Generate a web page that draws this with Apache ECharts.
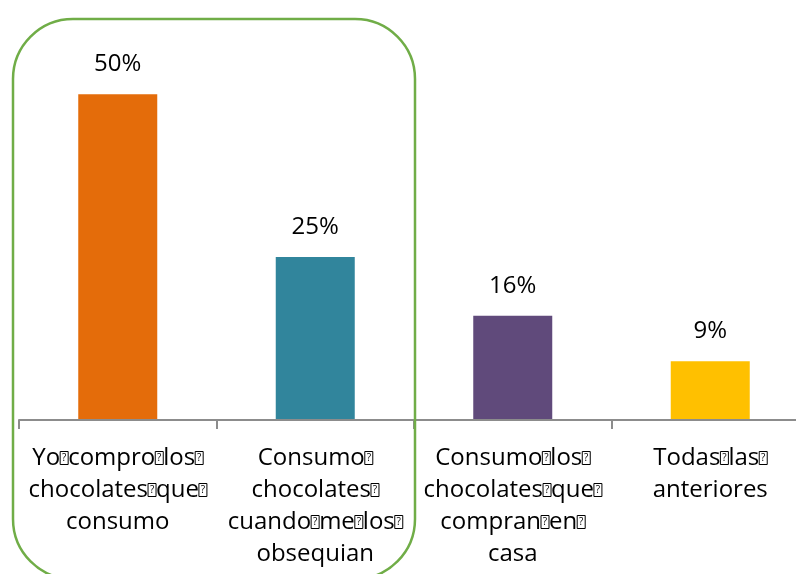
<!DOCTYPE html>
<html>
<head>
<meta charset="utf-8">
<script src="https://cdn.jsdelivr.net/npm/echarts@6/dist/echarts.min.js"></script>
<style>
  html, body { margin: 0; padding: 0; background: #ffffff; overflow: hidden; }
  #wrap { width: 796px; height: 574px; overflow: hidden; }
  /* the plot runs past the right edge, so the canvas is wider than the view */
  #chart { width: 830px; height: 574px; }
</style>
</head>
<body>
<div id="wrap"><div id="chart"></div></div>
<script>
// Category labels; \uFFFD marks the unprintable separators of the source labels
const categories = [
  'Yo\uFFFDcompro\uFFFDlos\uFFFD\nchocolates\uFFFDque\uFFFD\nconsumo',
  'Consumo\uFFFD\nchocolates\uFFFD\ncuando\uFFFDme\uFFFDlos\uFFFD\nobsequian',
  'Consumo\uFFFDlos\uFFFD\nchocolates\uFFFDque\uFFFD\ncompran\uFFFDen\uFFFD\ncasa',
  'Todas\uFFFDlas\uFFFD\nanteriores'
];
const values = [50, 25, 16, 9];
const barColors = ['#E46C0A', '#31859C', '#604A7B', '#FFC000'];

const chart = echarts.init(document.getElementById('chart'), null, { renderer: 'canvas' });

const font = "'Open Sans', 'DejaVu Sans', sans-serif";

chart.setOption({
  animation: false,
  backgroundColor: '#ffffff',
  grid: { left: 19, top: 29, width: 790, height: 391, containLabel: false },
  xAxis: {
    type: 'category',
    data: categories,
    z: 5,
    axisLine: { lineStyle: { color: '#8C8C8C', width: 2 } },
    axisTick: { show: true, length: 9, lineStyle: { color: '#8C8C8C', width: 2 } },
    axisLabel: {
      interval: 0,
      margin: 22,
      color: '#000000',
      fontFamily: font,
      fontSize: 24,
      lineHeight: 32,
      formatter: function (v) { return v.split('\uFFFD').join('{q|?}'); },
      rich: {
        q: {
          fontFamily: font,
          fontSize: 10,
          width: 8,
          height: 13,
          lineHeight: 13,
          padding: [0, 0, 0, 0],
          align: 'center',
          verticalAlign: 'middle',
          color: '#000000',
          borderColor: '#000000',
          borderWidth: 1
        }
      }
    }
  },
  yAxis: {
    type: 'value',
    min: 0,
    max: 60,
    show: false,
    splitLine: { show: false }
  },
  series: [{
    type: 'bar',
    barWidth: 79,
    data: values.map(function (v, i) {
      return { value: v, itemStyle: { color: barColors[i] } };
    }),
    label: {
      show: true,
      position: 'top',
      distance: 18,
      color: '#000000',
      fontFamily: font,
      fontSize: 24,
      formatter: function (p) { return p.value + '%'; }
    }
  }],
  graphic: [{
    type: 'rect',
    z: 10,
    shape: { x: 13, y: 19, width: 402, height: 560, r: 60 },
    style: { fill: 'none', stroke: '#70AD47', lineWidth: 2.5 }
  }]
});
</script>
</body>
</html>
